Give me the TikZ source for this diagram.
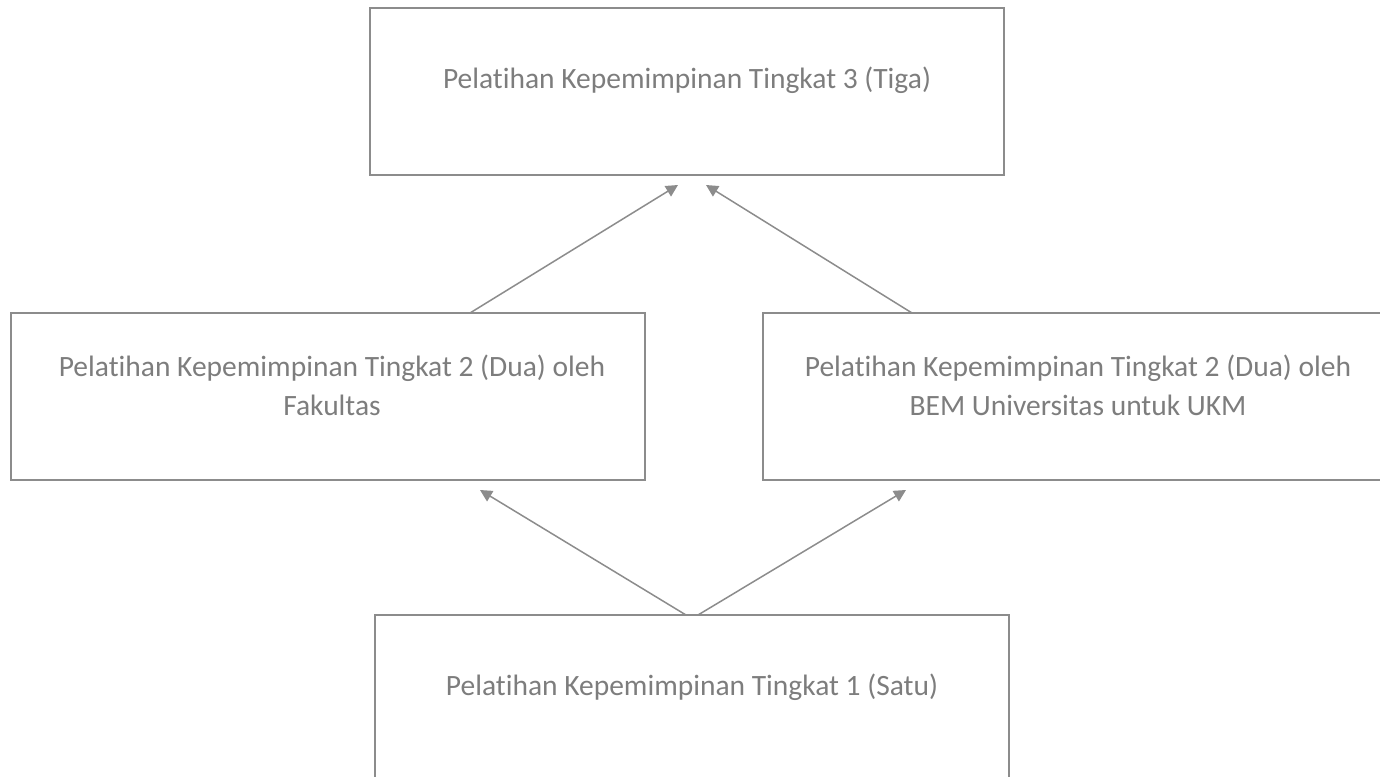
\documentclass[tikz,border=0pt]{standalone}
\usepackage{fontspec}
\setmainfont{Carlito}[Ligatures=NoCommon]
\usetikzlibrary{arrows.meta}
\definecolor{boxgray}{RGB}{140,140,140}
\definecolor{txtgray}{RGB}{125,125,125}
\tikzset{every picture/.style={line width=1.5pt}}

\begin{document}
\begin{tikzpicture}[x=1pt,y=1pt,yscale=-1,xscale=1,
  levelbox/.style={draw=boxgray,line width=1.6pt,minimum width=634pt,minimum height=167pt,inner sep=0pt,outer sep=0pt},
  leveltext/.style={text=txtgray,align=center,inner sep=0pt,font=\fontsize{29.5}{39}\selectfont},
  uparrow/.style={draw=boxgray,line width=1.5pt,-{Triangle[length=12pt,width=12pt]}}]
\useasboundingbox (0,0) rectangle (1380,776);
\begin{scope}
\clip (0,0) rectangle (1380,776);

%Shape: Rectangle [tingkat 3]
\node[levelbox] (tiga) at (687,91.5) {};
%Shape: Rectangle [tingkat 2 fakultas]
\node[levelbox] (duafak) at (328,396.5) {};
%Shape: Rectangle [tingkat 2 bem]
\node[levelbox] (duabem) at (1080,396.5) {};
%Shape: Rectangle [tingkat 1]
\node[levelbox] (satu) at (692,698.5) {};

% Text Node
\node[leveltext] (tigatxt) at ([yshift=72pt]tiga.north) {Pelatihan Kepemimpinan Tingkat 3 (Tiga)};
% Text Node
\node[leveltext] (duafaktxt) at ([xshift=4pt,yshift=72pt]duafak.north) {Pelatihan Kepemimpinan Tingkat 2 (Dua) oleh\\Fakultas};
% Text Node
\node[leveltext] (duabemtxt) at ([xshift=-2pt,yshift=72pt]duabem.north) {Pelatihan Kepemimpinan Tingkat 2 (Dua) oleh\\BEM Universitas untuk UKM};
% Text Node
\node[leveltext] (satutxt) at ([yshift=72pt]satu.north) {Pelatihan Kepemimpinan Tingkat 1 (Satu)};

%Straight Lines
\draw[uparrow] ([xshift=142pt]duafak.north) -- ([xshift=-9pt,yshift=10pt]tiga.south);
\draw[uparrow] ([xshift=-168pt]duabem.north) -- ([xshift=19pt,yshift=10pt]tiga.south);
\draw[uparrow] ([xshift=-6pt]satu.north) -- ([xshift=152pt,yshift=10pt]duafak.south);
\draw[uparrow] ([xshift=6pt]satu.north) -- ([xshift=-174pt,yshift=10pt]duabem.south);
\end{scope}
\end{tikzpicture}
\end{document}
